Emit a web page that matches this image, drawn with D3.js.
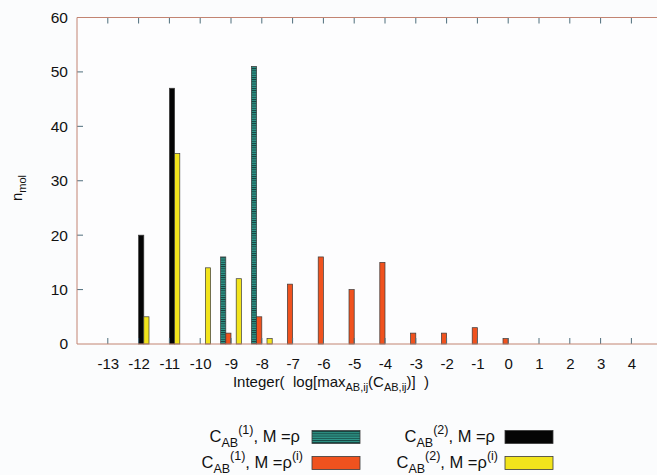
<!DOCTYPE html>
<html>
<head>
<meta charset="utf-8">
<script src="https://cdn.jsdelivr.net/npm/d3@7"></script>
<style>
  body { margin: 0; background: #fbfcfd; }
  svg { display: block; font-family: "Liberation Sans", Arial, sans-serif; }
</style>
</head>
<body>
<svg id="chart" width="657" height="475"></svg>
<script>
// bins of Integer(log[max C])
const categories = [-13, -12, -11, -10, -9, -8, -7, -6, -5, -4, -3, -2, -1, 0, 1, 2, 3, 4];
const yTicks = [0, 10, 20, 30, 40, 50, 60];

// n_mol per bin, one array per series
const c1Rho  = [0, 0, 0, 0, 16, 51, 0, 0, 0, 0, 0, 0, 0, 0, 0, 0, 0, 0];
const c1RhoI = [0, 0, 0, 0, 2, 5, 11, 16, 10, 15, 2, 2, 3, 1, 0, 0, 0, 0];
const c2Rho  = [0, 20, 47, 0, 0, 0, 0, 0, 0, 0, 0, 0, 0, 0, 0, 0, 0, 0];
const c2RhoI = [0, 5, 35, 14, 12, 1, 0, 0, 0, 0, 0, 0, 0, 0, 0, 0, 0, 0];

const series = [
  { key: "c1rho", values: c1Rho, fill: "url(#stripes)", sup: "(1)", rhoSup: null },
  { key: "c1rhoi", values: c1RhoI, fill: "#f0521e", sup: "(1)", rhoSup: "(i)" },
  { key: "c2rho", values: c2Rho, fill: "#050505", sup: "(2)", rhoSup: null },
  { key: "c2rhoi", values: c2RhoI, fill: "#f2e41c", sup: "(2)", rhoSup: "(i)" }
];

const svg = d3.select("#chart");
const plotLeft = 77, plotTop = 17.5, plotBottom = 344, plotRight = 657;

const x = d3.scaleLinear().domain([-14, 5]).range([plotLeft, plotLeft + 19 * 30.8]);
const y = d3.scaleLinear().domain([0, 60]).range([plotBottom, plotTop]);
const barW = 5.2;
const inner = d3.scaleBand().domain(series.map(s => s.key))
  .range([-2 * barW, 2 * barW]);

// teal striped fill
const pat = svg.append("defs").append("pattern")
  .attr("id", "stripes")
  .attr("patternUnits", "userSpaceOnUse")
  .attr("width", 4).attr("height", 2.2);
pat.append("rect").attr("width", 4).attr("height", 2.2).attr("fill", "#2f9a8c");
pat.append("rect").attr("width", 4).attr("height", 0.9).attr("fill", "#143c3a");

// plot background
svg.append("rect")
  .attr("x", plotLeft).attr("y", plotTop)
  .attr("width", plotRight - plotLeft + 5).attr("height", plotBottom - plotTop)
  .attr("fill", "#fdfdfe");

// bars
series.forEach(s => {
  const rows = categories.map((c, i) => ({ c: c, v: s.values[i] })).filter(d => d.v > 0);
  svg.append("g").selectAll("rect").data(rows).join("rect")
    .attr("x", d => x(d.c) + inner(s.key))
    .attr("y", d => y(d.v))
    .attr("width", inner.bandwidth())
    .attr("height", d => y(0) - y(d.v))
    .attr("fill", s.fill)
    .attr("stroke", "#3a3a3a")
    .attr("stroke-width", 0.7);
});

// axes
const tickColor = "#4f6e7c", frameColor = "#c28472";

const xAxis = svg.append("g")
  .attr("transform", `translate(0,${plotBottom})`)
  .call(d3.axisBottom(x).tickValues(categories).tickSize(0).tickPadding(14).tickFormat(d => String(d)));
xAxis.select(".domain").remove();
xAxis.selectAll("text").attr("font-size", 15).attr("fill", "#111")
  .attr("font-family", "Liberation Sans, Arial, sans-serif");

const yAxis = svg.append("g")
  .attr("transform", `translate(${plotLeft},0)`)
  .call(d3.axisLeft(y).tickValues(yTicks).tickSize(0).tickPadding(9));
yAxis.select(".domain").remove();
yAxis.selectAll("text").attr("font-size", 15.5).attr("fill", "#111")
  .attr("font-family", "Liberation Sans, Arial, sans-serif");

// inner tick marks
const tickG = svg.append("g").attr("stroke", tickColor).attr("stroke-width", 1);
categories.forEach(c => {
  tickG.append("line").attr("x1", x(c)).attr("x2", x(c)).attr("y1", plotBottom).attr("y2", plotBottom - 6);
  tickG.append("line").attr("x1", x(c)).attr("x2", x(c)).attr("y1", plotTop).attr("y2", plotTop + 6);
});
yTicks.slice(1, -1).forEach(t => {
  tickG.append("line").attr("x1", plotLeft).attr("x2", plotLeft + 6).attr("y1", y(t)).attr("y2", y(t));
});

// frame
const frame = svg.append("g").attr("stroke", frameColor).attr("stroke-width", 1).attr("fill", "none");
frame.append("path").attr("d", `M${plotRight},${plotTop}H${plotLeft}V${plotBottom}H${plotRight}`);

// axis titles
const xl = svg.append("text")
  .attr("x", 331).attr("y", 387)
  .attr("text-anchor", "middle")
  .attr("font-size", 15).attr("fill", "#111");
xl.append("tspan").text("Integer(\u00a0\u00a0log[max");
xl.append("tspan").attr("font-size", 11).attr("dy", 4).text("AB,ij");
xl.append("tspan").attr("dy", -4).text("(C");
xl.append("tspan").attr("font-size", 11).attr("dy", 4).text("AB,ij");
xl.append("tspan").attr("dy", -4).text(")]\u00a0\u00a0)");

const yl = svg.append("text")
  .attr("transform", "translate(22,201) rotate(-90)")
  .attr("font-size", 15).attr("fill", "#111");
yl.append("tspan").text("n");
yl.append("tspan").attr("font-size", 11).attr("dy", 4).text("mol");

// legend
const legendPos = [
  { tx: 300, sx: 312, y: 437 },
  { tx: 303, sx: 312, y: 463 },
  { tx: 495, sx: 505, y: 437 },
  { tx: 498, sx: 505, y: 463 }
];
series.forEach((s, i) => {
  const p = legendPos[i];
  const t = svg.append("text")
    .attr("x", p.tx).attr("y", p.y + 5)
    .attr("text-anchor", "end")
    .attr("font-size", 16.5).attr("fill", "#111");
  t.append("tspan").text("C");
  t.append("tspan").attr("font-size", 12.5).attr("dy", 5).text("AB");
  t.append("tspan").attr("font-size", 12.5).attr("dy", -13).text(s.sup);
  t.append("tspan").attr("dy", 8).text(", M =\u03c1");
  if (s.rhoSup) t.append("tspan").attr("font-size", 12.5).attr("dy", -8).text(s.rhoSup);
  svg.append("rect")
    .attr("x", p.sx).attr("y", p.y - 6.5)
    .attr("width", 48).attr("height", 13)
    .attr("fill", s.fill)
    .attr("stroke", "#3a3a3a").attr("stroke-width", 0.8);
});
</script>
</body>
</html>
